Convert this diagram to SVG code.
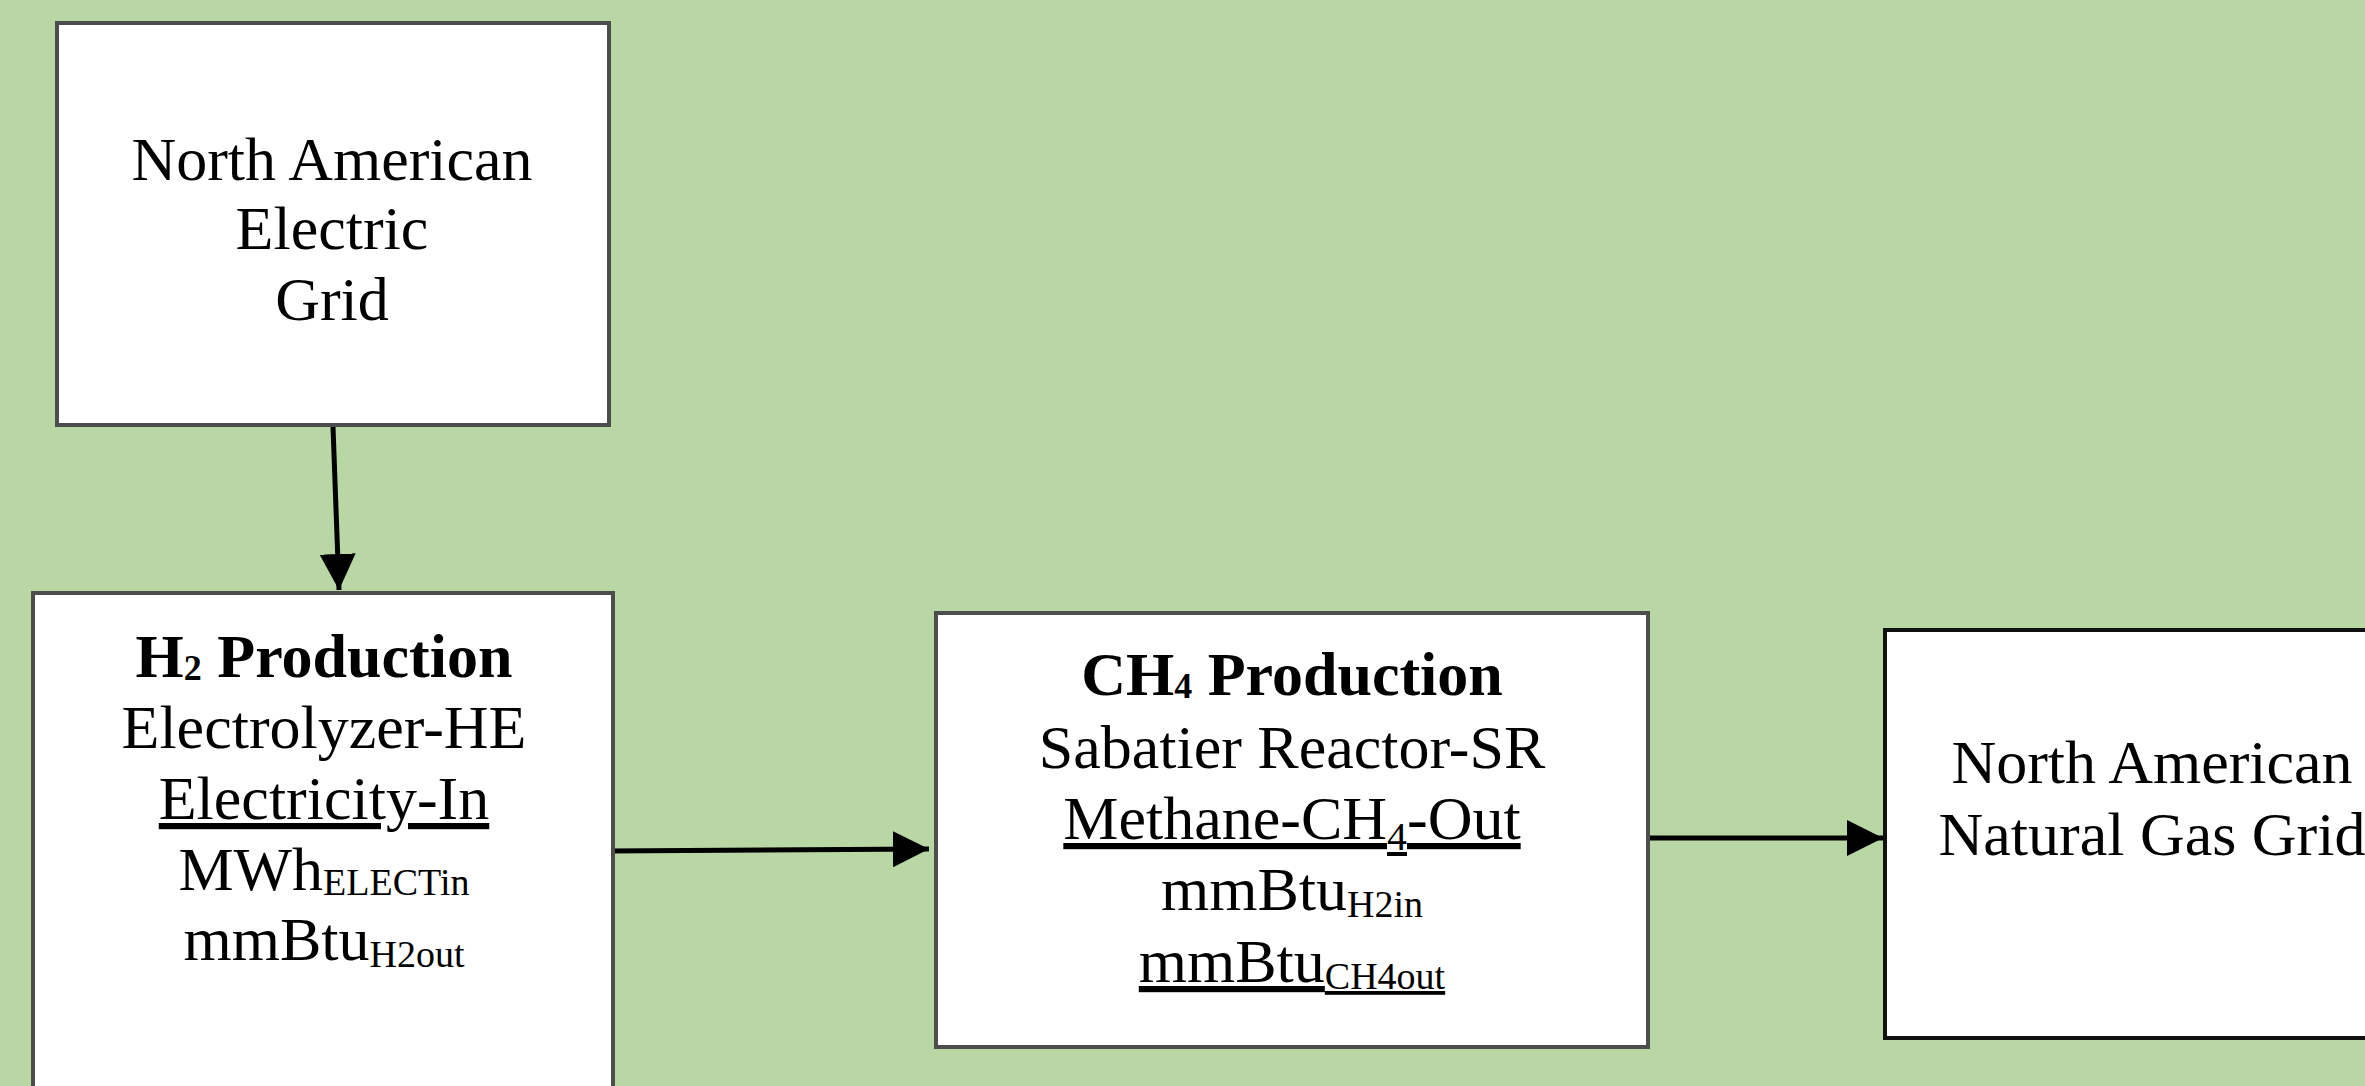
<svg xmlns="http://www.w3.org/2000/svg" width="2365" height="1086" viewBox="0 0 2365 1086">
<style>
.box{fill:#ffffff;stroke:#4d4d4d;stroke-width:4}
.boxd{fill:#ffffff;stroke:#111111;stroke-width:4}
.t{font-family:"Liberation Serif","Times New Roman",serif;font-size:62px;fill:#000;text-anchor:middle}
.b{font-weight:bold}
.u{text-decoration:underline;text-decoration-color:#6e6e6e}
.sub{font-size:38px}
.conn{stroke:#000;stroke-width:5;fill:none;marker-end:url(#arrow)}
</style>
<defs>
<marker id="arrow" markerUnits="userSpaceOnUse" markerWidth="36" markerHeight="36" viewBox="0 0 34 34" refX="34" refY="17" orient="auto">
<path d="M0,0 L34,17 L0,34 Z" fill="#000"/>
</marker>
</defs>
<rect x="0" y="0" width="2365" height="1086" fill="#b9d6a5"/>
<g id="connectors">
<line class="conn" x1="333" y1="427" x2="339" y2="590"/>
<line class="conn" x1="608" y1="851" x2="929" y2="849"/>
<line class="conn" x1="1641" y1="838" x2="1883" y2="838"/>
</g>
<g id="node-electric-grid">
<rect class="box" x="57" y="23" width="552" height="402"/>
<text class="t" x="332" y="180">North American</text>
<text class="t" x="332" y="249">Electric</text>
<text class="t" x="332" y="320">Grid</text>
</g>
<g id="node-h2-production">
<rect class="box" x="33" y="593" width="580" height="520"/>
<text class="t b" x="324" y="677">H<tspan dy="3" font-size="36">2</tspan><tspan dy="-3"> Production</tspan></text>
<text class="t" x="324" y="748">Electrolyzer-HE</text>
<text class="t u" x="324" y="819">Electricity-In</text>
<text class="t" x="324" y="890">MWh<tspan class="sub" dy="5">ELECTin</tspan></text>
<text class="t" x="324" y="960">mmBtu<tspan class="sub" dy="7">H2out</tspan></text>
</g>
<g id="node-ch4-production">
<rect class="box" x="936" y="613" width="712" height="434"/>
<text class="t b" x="1292" y="695">CH<tspan dy="3" font-size="36">4</tspan><tspan dy="-3"> Production</tspan></text>
<text class="t" x="1292" y="768">Sabatier Reactor-SR</text>
<text class="t u" x="1292" y="839">Methane-CH<tspan dy="11" font-size="40">4</tspan><tspan dy="-11">-Out</tspan></text>
<text class="t" x="1292" y="910">mmBtu<tspan class="sub" dy="7">H2in</tspan></text>
<text class="t u" x="1292" y="982">mmBtu<tspan class="sub" dy="7">CH4out</tspan></text>
</g>
<g id="node-natural-gas-grid">
<rect class="boxd" x="1885" y="630" width="560" height="408"/>
<text class="t" x="2152" y="783">North American</text>
<text class="t" x="2152" y="855">Natural Gas Grid</text>
</g>
</svg>
